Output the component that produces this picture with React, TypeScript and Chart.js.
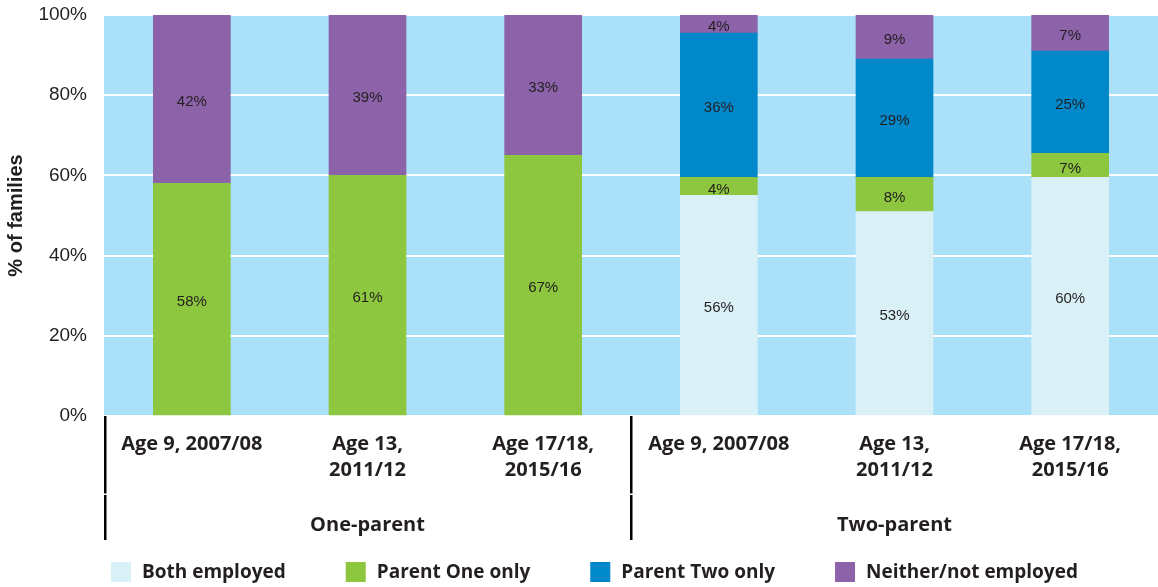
import React, { useEffect, useRef } from "react";
import { Chart, registerables } from "chart.js";

Chart.register(...registerables);

const categories: (string | string[])[] = [
  "Age 9, 2007/08",
  ["Age 13,", "2011/12"],
  ["Age 17/18,", "2015/16"],
  "Age 9, 2007/08",
  ["Age 13,", "2011/12"],
  ["Age 17/18,", "2015/16"],
];
const groups = ["One-parent", "Two-parent"];
const seriesNames = ["Both employed", "Parent One only", "Parent Two only", "Neither/not employed"];
const seriesColors = ["#DAF0F7", "#8DC63F", "#0088CA", "#8C62A9"];

const bothEmployed = [null, null, null, 55, 51, 59.5];
const parentOneOnly = [58, 60, 65, 4.5, 8.5, 6];
const parentTwoOnly = [null, null, null, 36, 29.5, 25.5];
const neitherEmployed = [42, 40, 35, 4.5, 11, 9];

const bothLabels = [null, null, null, 56, 53, 60];
const parentOneLabels = [58, 61, 67, 4, 8, 7];
const parentTwoLabels = [null, null, null, 36, 29, 25];
const neitherLabels = [42, 39, 33, 4, 9, 7];

const yTicks = [0, 20, 40, 60, 80, 100];

const TEXT = "#231f20";
const BOLD_FONT = "'Open Sans', 'Noto Sans', sans-serif";
const NUM_FONT = "'Liberation Sans', Arial, sans-serif";

export default function App() {
  const ref = useRef<HTMLCanvasElement | null>(null);

  useEffect(() => {
    document.body.style.margin = "0";
    const canvas = ref.current;
    if (!canvas) return;

    const allLabels = [bothLabels, parentOneLabels, parentTwoLabels, neitherLabels];

    const bgPlugin = {
      id: "plotBg",
      beforeDraw(chart: any) {
        const { ctx, chartArea } = chart;
        ctx.save();
        ctx.fillStyle = "#ABE0F9";
        ctx.fillRect(chartArea.left, chartArea.top, chartArea.right - chartArea.left, chartArea.bottom - chartArea.top);
        ctx.restore();
      },
    };

    const valueLabels = {
      id: "valueLabels",
      afterDatasetsDraw(chart: any) {
        const { ctx } = chart;
        ctx.save();
        ctx.font = `15px ${NUM_FONT}`;
        ctx.fillStyle = TEXT;
        ctx.textAlign = "center";
        ctx.textBaseline = "middle";
        chart.data.datasets.forEach((_ds: any, di: number) => {
          const meta = chart.getDatasetMeta(di);
          meta.data.forEach((el: any, i: number) => {
            const v = allLabels[di][i];
            if (v === null || v === undefined) return;
            const y = (el.y + el.base) / 2 + 3;
            ctx.fillText(`${v}%`, el.x, y);
          });
        });
        ctx.restore();
      },
    };

    const axisLines = {
      id: "axisLines",
      afterDraw(chart: any) {
        const { ctx, chartArea } = chart;
        const x = chart.scales.x;
        const x2 = chart.scales.x2;
        const sep = (x.getPixelForValue(2) + x.getPixelForValue(3)) / 2;
        const xs = [chartArea.left + 1, sep];
        ctx.save();
        xs.forEach((px) => {
          ctx.fillStyle = "#000";
          ctx.fillRect(px - 1, chartArea.bottom, 2.5, x2.bottom - chartArea.bottom);
          ctx.fillStyle = "#fff";
          ctx.fillRect(px - 2, x.bottom - 0.5, 5, 1.5);
        });

        // legend
        ctx.font = `bold 19px ${BOLD_FONT}`;
        ctx.textBaseline = "middle";
        ctx.textAlign = "left";
        const gap = 60;
        let cur = chartArea.left + 7;
        const cy = 572;
        seriesNames.forEach((name, i) => {
          ctx.fillStyle = seriesColors[i];
          ctx.fillRect(cur, cy - 10, 20, 20);
          ctx.fillStyle = TEXT;
          ctx.fillText(name, cur + 31, cy + 1);
          cur += 31 + ctx.measureText(name).width + gap;
        });
        ctx.restore();
      },
    };

    const mk = (label: string, data: any[], color: string) => ({
      label,
      data,
      backgroundColor: color,
      borderWidth: 0,
      barThickness: 77,
    });

    const chart = new Chart(canvas, {
      type: "bar",
      data: {
        labels: categories as any,
        datasets: [
          mk(seriesNames[0], bothEmployed, seriesColors[0]),
          mk(seriesNames[1], parentOneOnly, seriesColors[1]),
          mk(seriesNames[2], parentTwoOnly, seriesColors[2]),
          mk(seriesNames[3], neitherEmployed, seriesColors[3]),
        ],
      },
      options: {
        animation: false,
        responsive: true,
        maintainAspectRatio: false,
        layout: { padding: { top: 15, bottom: 47, left: 0, right: 0 } },
        plugins: {
          legend: { display: false },
          tooltip: { enabled: false },
        },
        scales: {
          x: {
            stacked: true,
            offset: true,
            grid: { display: false },
            border: { display: false },
            ticks: {
              autoSkip: false,
              maxRotation: 0,
              padding: 7,
              color: TEXT,
              font: { family: BOLD_FONT, size: 20, weight: "bold", lineHeight: 1.3 },
            },
            afterFit(scale: any) {
              scale.height = 78;
              scale.paddingLeft = 0;
              scale.paddingRight = 0;
            },
          },
          x2: {
            type: "category",
            position: "bottom",
            labels: groups,
            offset: true,
            grid: { display: false },
            border: { display: false },
            ticks: {
              padding: 10,
              color: TEXT,
              font: { family: BOLD_FONT, size: 20, weight: "bold", lineHeight: 1.3 },
            },
            afterFit(scale: any) {
              scale.height = 46;
              scale.paddingLeft = 0;
              scale.paddingRight = 0;
            },
          },
          y: {
            stacked: true,
            min: 0,
            max: 100,
            border: { display: false },
            grid: { color: "#ffffff", lineWidth: 2, drawTicks: false },
            afterBuildTicks(scale: any) {
              scale.ticks = yTicks.map((v) => ({ value: v }));
            },
            ticks: {
              padding: 17,
              color: TEXT,
              font: { family: NUM_FONT, size: 19 },
              callback: (v: any) => `${v}%`,
            },
            title: {
              display: true,
              text: "% of families",
              color: TEXT,
              font: { family: NUM_FONT, size: 20, weight: "bold" },
              padding: { top: 4, bottom: 0 },
            },
            afterFit(scale: any) {
              scale.width = 104;
              scale.paddingTop = 0;
              scale.paddingBottom = 0;
            },
          },
        },
      } as any,
      plugins: [bgPlugin, valueLabels, axisLines],
    });

    return () => chart.destroy();
  }, []);

  return (
    <div style={{ width: 1158, height: 587, position: "relative" }}>
      <canvas ref={ref} />
    </div>
  );
}
